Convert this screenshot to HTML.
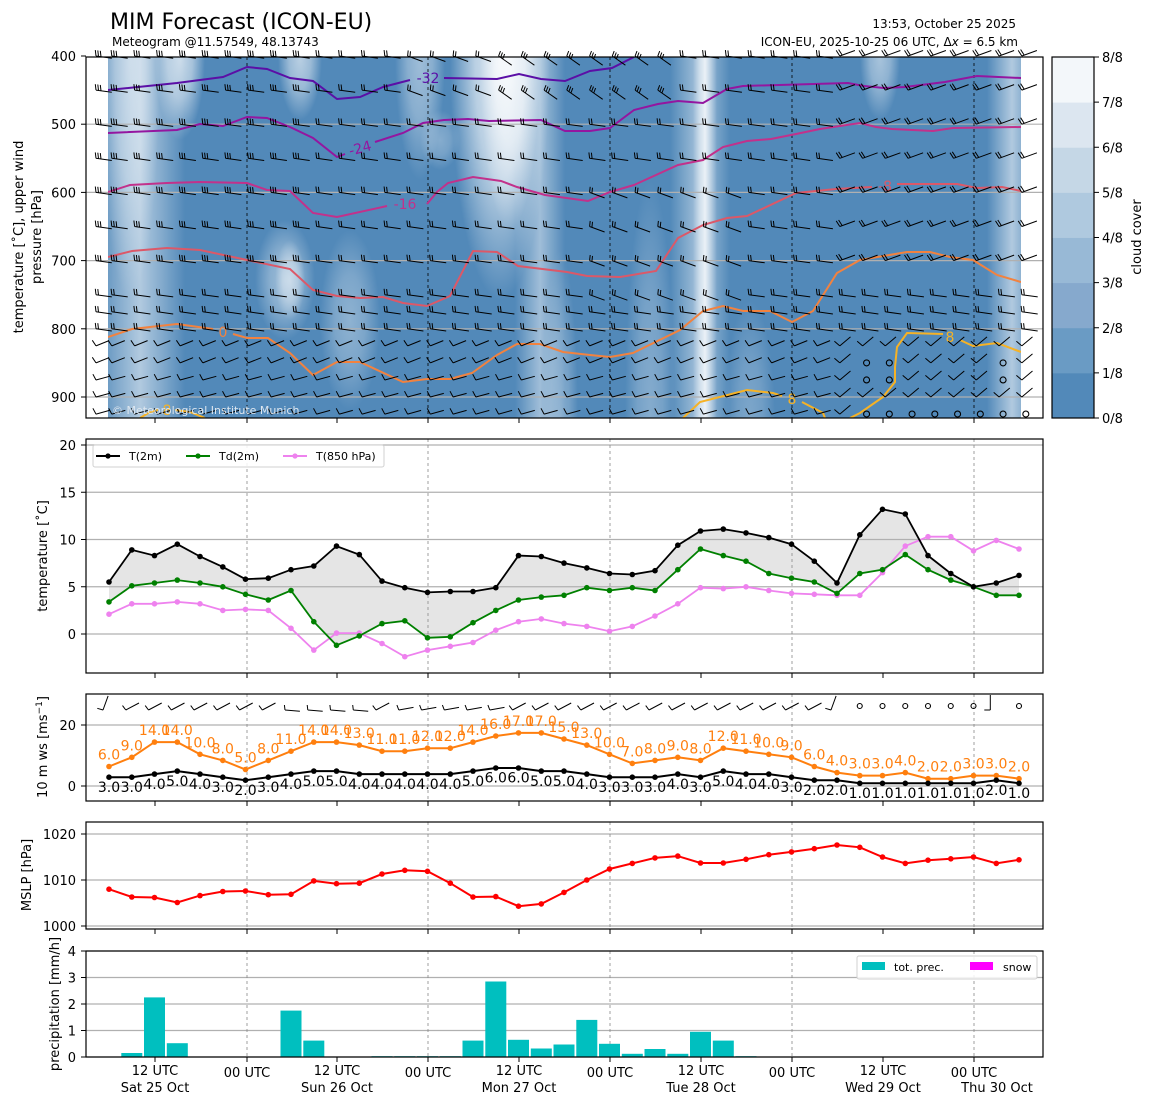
<!DOCTYPE html>
<html><head><meta charset="utf-8">
<style>
html,body{margin:0;padding:0;background:#fff;}
svg{display:block;font-family:"DejaVu Sans","Liberation Sans",sans-serif;}
</style></head>
<body>
<svg id="s" width="1155" height="1105" viewBox="0 0 1155 1105" xmlns="http://www.w3.org/2000/svg"></svg>
<script>
(function(){
var o=[];
function X(i){return 109+22.75*i;}
function pl(pts,col,w,extra){return '<polyline points="'+pts.map(function(p){return p[0].toFixed(1)+','+p[1].toFixed(1)}).join(' ')+'" fill="none" stroke="'+col+'" stroke-width="'+(w||2)+'" '+(extra||'')+'/>';}
function txt(x,y,t,sz,anc,col,extra){return '<text x="'+x+'" y="'+y+'" font-size="'+sz+'" text-anchor="'+(anc||'start')+'" fill="'+(col||'#000')+'" '+(extra||'')+'>'+t+'</text>';}
o.push(txt(110,29,'MIM Forecast (ICON-EU)',22));
o.push(txt(112,46,'Meteogram @11.57549, 48.13743',12));
o.push(txt(1016,28,'13:53, October 25 2025',12,'end'));
o.push(txt(1018,46,'ICON-EU, 2025-10-25 06 UTC, Δ<tspan font-style="italic">x</tspan> = 6.5 km',12,'end'));
var defs='<defs><clipPath id="cp"><rect x="108" y="57" width="913" height="361"/></clipPath><linearGradient id="gb" x1="0" x2="1" y1="0" y2="0"><stop offset="0" stop-color="#fff" stop-opacity="0"/><stop offset="0.5" stop-color="#fff" stop-opacity="1"/><stop offset="1" stop-color="#fff" stop-opacity="0"/></linearGradient><radialGradient id="gr"><stop offset="0" stop-color="#fff" stop-opacity="1"/><stop offset="0.5" stop-color="#fff" stop-opacity="0.7"/><stop offset="1" stop-color="#fff" stop-opacity="0"/></radialGradient></defs>';
o.push(defs);
o.push('<g clip-path="url(#cp)"><rect x="108" y="57" width="913" height="361" fill="#5289b9"/>');
function band(cx,hw,y0,y1,op){
 if(y0<=57&&y1>=418){o.push('<rect x="'+(cx-hw)+'" y="'+y0+'" width="'+(2*hw)+'" height="'+(y1-y0)+'" fill="url(#gb)" opacity="'+op+'"/>');}
 else{var cy=(y0+y1)/2,ry=(y1-y0)/2;if(y0<=57){cy=y0;ry=(y1-y0);} if(y1>=418){cy=y1;ry=(y1-y0);}
  o.push('<ellipse cx="'+cx+'" cy="'+cy+'" rx="'+hw+'" ry="'+ry+'" fill="url(#gr)" opacity="'+op+'"/>');}}
band(140,45,57,418,0.55);band(130,30,57,300,0.5);band(180,25,57,140,0.7);band(300,22,57,120,0.6);
band(285,30,220,340,0.45);band(350,30,230,410,0.35);band(290,15,240,320,0.5);
band(420,25,57,180,0.45);band(500,50,57,300,0.85);band(510,30,57,230,0.8);band(540,25,57,418,0.45);
band(560,18,250,418,0.3);band(700,30,57,418,0.5);band(705,12,57,418,0.8);band(650,25,180,418,0.3);
band(880,20,57,120,0.5);band(1012,25,57,418,0.55);band(440,20,110,170,0.3);band(750,25,300,418,0.25);
o.push('</g>');
[500,600,700,800,900].forEach(function(p){var y=56+(p-400)*0.682;o.push('<line x1="86" x2="1043" y1="'+y+'" y2="'+y+'" stroke="#b0b0b0" stroke-width="1.2"/>');});
[247,428,610,792,974].forEach(function(x){o.push('<line x1="'+x+'" x2="'+x+'" y1="57" y2="418" stroke="#000" stroke-width="0.8" stroke-dasharray="3,3"/>');});
var C32=[[108,90],[177,83],[223,77],[247,67],[267,69],[290,78],[313,81],[337,99],[360,97],[383,87],[410,80]];
var C32b=[[444,78],[497,79],[519,74],[541,79],[565,81],[590,71],[612,68],[634,57]];
var C24=[[108,133],[177,130],[200,124],[223,126],[247,117],[267,118],[290,127],[313,138],[337,157],[345,154]];
var C24b=[[375,142],[403,133],[423,123],[444,120],[468,119],[489,121],[541,120],[565,131],[590,131],[610,128],[634,110],[658,104],[678,101],[703,103],[727,89],[743,86],[848,83],[864,86],[884,88],[905,87],[945,82],[977,76],[1021,78]];
var C16=[[108,192],[130,185],[167,183],[200,182],[247,183],[267,190],[290,191],[313,213],[337,217],[387,206]];
var C16b=[[427,204],[437,192],[448,183],[473,177],[501,181],[517,187],[545,195],[588,201],[610,192],[634,185],[678,165],[703,160],[723,147],[747,141],[771,139],[796,134],[820,129],[860,123],[876,127],[892,129],[933,131],[953,128],[1021,127]];
var C8=[[108,257],[132,251],[167,248],[200,250],[247,260],[290,269],[313,290],[337,296],[360,298],[383,297],[403,303],[427,306],[450,296],[473,251],[497,252],[518,266],[567,272],[587,276],[620,277],[656,271],[670,250],[678,238],[703,225],[727,218],[747,216],[796,193],[836,189],[872,187]];
var C8b=[[897,184],[957,184],[977,188],[1002,187],[1021,191]];
var C0=[[108,337],[132,329],[177,324],[213,329]];
var C0b=[[233,334],[247,338],[268,338],[290,353],[313,375],[337,362],[360,362],[403,382],[427,379],[450,379],[472,373],[497,355],[517,344],[540,344],[563,352],[590,355],[610,357],[633,353],[680,330],[703,311],[723,306],[743,311],[770,311],[792,322],[813,311],[837,273],[860,260],[907,252],[930,252],[950,257],[973,260],[997,275],[1021,282]];
var Y8a=[[850,418],[860,413],[883,397],[895,382],[895,367],[897,347],[907,333],[943,334]];
var Y8b=[[960,340],[973,346],[997,343],[1021,352]];
var Y8c=[[683,418],[700,402],[747,390],[773,393],[782,396]];
var Y8d=[[802,402],[823,413],[825,418]];
var Y8e=[[140,418],[150,412],[158,410]];var Y8f=[[175,410],[190,412],[205,418]];
o.push('<g clip-path="url(#cp)">');
o.push(pl(C32,'#5b0fa6',2)+pl(C32b,'#5b0fa6',2)+pl(C24,'#9416a0',2)+pl(C24b,'#9416a0',2)+pl(C16,'#c2318b',2)+pl(C16b,'#c2318b',2)+pl(C8,'#dc5868',2)+pl(C8b,'#dc5868',2)+pl(C0,'#f2823f',2)+pl(C0b,'#f2823f',2)+pl(Y8a,'#f6b225',2)+pl(Y8b,'#f6b225',2)+pl(Y8c,'#f6b225',2)+pl(Y8d,'#f6b225',2)+pl(Y8e,'#f6b225',2)+pl(Y8f,'#f6b225',2));
o.push('</g>');
o.push(txt(428,83,'-32',14,'middle','#5b0fa6'));o.push(txt(360,153,'-24',14,'middle','#9416a0','transform="rotate(-15 360 148)"'));
o.push(txt(405,209,'-16',14,'middle','#c2318b'));o.push(txt(885,191,'-8',14,'middle','#dc5868'));
o.push(txt(223,337,'0',14,'middle','#f2823f'));o.push(txt(950,342,'8',14,'middle','#f6b225'));
o.push(txt(792,404,'8',14,'middle','#f6b225'));o.push(txt(167,415,'8',14,'middle','#f6b225'));
var levels=[400,450,500,550,600,650,700,750,775,800,825,850,875,900,925];
var b=[];
function calm(i,p){
 if(p==925&&i>=33)return true;
 if((p==850||p==875)&&(i==33||i==34||i==39))return true;
 return false;}
levels.forEach(function(p,li){var y=56+(p-400)*0.682;
 for(var i=-0.7;i<41;i++){var x=X(i<0?-0.7:i);
  if(i<0){x=100;}
  var ii=Math.round(i);
  if(calm(ii,p)){b.push('<circle cx="'+x+'" cy="'+y+'" r="3" fill="none" stroke="#000" stroke-width="1.1"/>');continue;}
  var ang=8,len=16,nf=2;
  if(p>=825){ang=-22;nf=1;len=14;} if(p>=875){ang=-15;}
  if(p<=450&&ii>=17&&ii<=24){ang=35;nf=3;}
  if(p<=450&&ii>=13&&ii<=16){ang=20;}
  if(p>=600&&p<=750&&ii>=21&&ii<=27){ang=20;}
  if(ii>=32&&p>=825){ang=-40;}
  if(ii>=32&&p<=700){ang=-20;}
  if(ii<9&&p<=700){nf=3;}
  var r=ang*Math.PI/180,x0=x-4,y0=y,x1=x0+len*Math.cos(r),y1=y0+len*Math.sin(r);
  var d='M'+x0.toFixed(1)+','+y0.toFixed(1)+'L'+x1.toFixed(1)+','+y1.toFixed(1);
  for(var k=0;k<nf;k++){var fx=x0+k*2.5*Math.cos(r),fy=y0+k*2.5*Math.sin(r);
   d+='M'+fx.toFixed(1)+','+fy.toFixed(1)+'l'+(-1.5+6*Math.sin(r)).toFixed(1)+','+(-6*Math.cos(r)).toFixed(1);}
  b.push('<path d="'+d+'" fill="none" stroke="#000" stroke-width="1"/>');
 }});
o.push('<g>'+b.join('')+'</g>');
o.push('<rect x="86" y="57" width="957" height="361" fill="none" stroke="#000" stroke-width="1.2"/>');
o.push(txt(112,414,'© Meteorological Institute Munich',11,'start','#dde6ef'));
[400,500,600,700,800,900].forEach(function(p){var y=56+(p-400)*0.682;o.push('<line x1="81" x2="86" y1="'+y+'" y2="'+y+'" stroke="#000"/>'+txt(76,y+5,p,13,'end'));});
[155,247,337,428,519,610,701,792,883,974].forEach(function(x){o.push('<line x1="'+x+'" x2="'+x+'" y1="418" y2="423" stroke="#000"/>');});
o.push(txt(23,237,'temperature [˚C], upper wind',13,'middle','#000','transform="rotate(-90 23 237)"'));
o.push(txt(41,237,'pressure [hPa]',13,'middle','#000','transform="rotate(-90 41 237)"'));
var cc=['#5289b9','#6a9bc4','#86a9cd','#98b9d6','#afc9df','#c5d7e6','#dce6f0','#f3f7fa'];
for(var k=0;k<8;k++){var y=418-(k+1)*45.125;o.push('<rect x="1052" y="'+y+'" width="42" height="45.6" fill="'+cc[k]+'"/>');}
o.push('<rect x="1052" y="57" width="42" height="361" fill="none" stroke="#000" stroke-width="1.2"/>');
for(var k=0;k<=8;k++){var y=418-k*45.125;o.push('<line x1="1094" x2="1099" y1="'+y+'" y2="'+y+'" stroke="#000"/>'+txt(1102,y+5,k+'/8',13));}
o.push(txt(1141,237,'cloud cover',13,'middle','#000','transform="rotate(-90 1141 237)"'));
function frame(y0,y1){o.push('<rect x="86" y="'+y0+'" width="957" height="'+(y1-y0)+'" fill="none" stroke="#000" stroke-width="1.2"/>');
 [155,247,337,428,519,610,701,792,883,974].forEach(function(x){o.push('<line x1="'+x+'" x2="'+x+'" y1="'+y1+'" y2="'+(y1+5)+'" stroke="#000"/>');});}
function vd(y0,y1){[247,428,610,792,974].forEach(function(x){o.push('<line x1="'+x+'" x2="'+x+'" y1="'+y0+'" y2="'+y1+'" stroke="#888" stroke-width="0.8" stroke-dasharray="3,3"/>');});}
function hg(y,lab){o.push('<line x1="86" x2="1043" y1="'+y+'" y2="'+y+'" stroke="#b0b0b0" stroke-width="1.2"/><line x1="81" x2="86" y1="'+y+'" y2="'+y+'" stroke="#000"/>'+txt(76,y+5,lab,13,'end'));}
function series(vals,fy,col,w){var pts=vals.map(function(v,i){return [X(i),fy(v)];});var s=pl(pts,col,w||2);pts.forEach(function(p){s+='<circle cx="'+p[0].toFixed(1)+'" cy="'+p[1].toFixed(1)+'" r="2.8" fill="'+col+'"/>';});o.push(s);return pts;}
var T=[5.5,8.9,8.3,9.5,8.2,7.1,5.8,5.9,6.8,7.2,9.3,8.4,5.6,4.9,4.4,4.5,4.5,4.9,8.3,8.2,7.5,7.0,6.4,6.3,6.7,9.4,10.9,11.1,10.7,10.2,9.5,7.7,5.4,10.5,13.2,12.7,8.3,6.4,5.0,5.4,6.2];
var Td=[3.4,5.1,5.4,5.7,5.4,5.0,4.2,3.6,4.6,1.3,-1.2,-0.2,1.1,1.4,-0.4,-0.3,1.2,2.5,3.6,3.9,4.1,4.9,4.6,4.9,4.6,6.8,9.0,8.3,7.7,6.4,5.9,5.5,4.3,6.4,6.8,8.4,6.8,5.7,5.0,4.1,4.1];
var T85=[2.1,3.2,3.2,3.4,3.2,2.5,2.6,2.5,0.6,-1.7,0.1,0.1,-1.0,-2.4,-1.7,-1.3,-0.9,0.4,1.3,1.6,1.1,0.8,0.3,0.8,1.9,3.2,4.9,4.8,5.0,4.6,4.3,4.2,4.1,4.1,6.5,9.3,10.3,10.3,8.8,9.9,9.0];
function ty(v){return 634-v*9.45;}
var fp=T.map(function(v,i){return X(i).toFixed(1)+','+ty(v).toFixed(1);});
for(var i=40;i>=0;i--)fp.push(X(i).toFixed(1)+','+ty(Td[i]).toFixed(1));
o.push('<polygon points="'+fp.join(' ')+'" fill="#e5e5e5"/>');
[0,5,10,15,20].forEach(function(v){hg(ty(v),v);});
vd(439,673);
series(T85,ty,'#ee82ee',1.8);series(Td,ty,'#008000',1.8);series(T,ty,'#000',1.8);
frame(439,673);
o.push('<rect x="93" y="445" width="291" height="22" rx="2" fill="#fff" fill-opacity="0.85" stroke="#d0d0d0"/>');
o.push('<line x1="96" x2="120" y1="456" y2="456" stroke="#000" stroke-width="2"/><circle cx="108" cy="456" r="2.6"/>'+txt(129,460,'T(2m)',11));
o.push('<line x1="186" x2="210" y1="456" y2="456" stroke="#008000" stroke-width="2"/><circle cx="198" cy="456" r="2.6" fill="#008000"/>'+txt(219,460,'Td(2m)',11));
o.push('<line x1="283" x2="307" y1="456" y2="456" stroke="#ee82ee" stroke-width="2"/><circle cx="295" cy="456" r="2.6" fill="#ee82ee"/>'+txt(316,460,'T(850 hPa)',11));
o.push(txt(47,556,'temperature [˚C]',13,'middle','#000','transform="rotate(-90 47 556)"'));
var G=[6,9,14,14,10,8,5,8,11,14,14,13,11,11,12,12,14,16,17,17,15,13,10,7,8,9,8,12,11,10,9,6,4,3,3,4,2,2,3,3,2];
var W=[3,3,4,5,4,3,2,3,4,5,5,4,4,4,4,4,5,6,6,5,5,4,3,3,3,4,3,5,4,4,3,2,2,1,1,1,1,1,1,2,1];
function wy(v){return 786-v*3.05;}
hg(wy(0),0);hg(wy(20),20);
vd(694,801);
series(G.map(function(v){return v+0.4;}),wy,'#ff7f0e',2);
series(W.map(function(v){return v-0.1;}),wy,'#000',2);
G.forEach(function(v,i){o.push(txt(X(i),wy(v+0.4)-7,v.toFixed(1),14,'middle','#ff7f0e'));});
W.forEach(function(v,i){o.push(txt(X(i),wy(v)+15,v.toFixed(1),14,'middle','#000'));});
var wb=[];
for(var i=0;i<41;i++){var x=X(i),y=708;
 if(i>=33&&i!=39){wb.push('<circle cx="'+x+'" cy="'+(y-2)+'" r="2.5" fill="none" stroke="#000" stroke-width="1.1"/>');continue;}
 var ang=-28,nf=1;
 if(i==0||i==32){ang=-70;} if(i==39){ang=-90;}
 if(i>=8&&i<=11){ang=5;} if(i>=13&&i<=17){ang=-10;}
 var r=ang*Math.PI/180,x0=x-6,y0=y+2,len=15,x1=x0+len*Math.cos(r),y1=y0+len*Math.sin(r);
 var d='M'+x0.toFixed(1)+','+y0.toFixed(1)+'L'+x1.toFixed(1)+','+y1.toFixed(1);
 for(var k=0;k<nf;k++){d+='M'+x0.toFixed(1)+','+y0.toFixed(1)+'l'+(-1+5*Math.sin(r)).toFixed(1)+','+(-5*Math.cos(r)).toFixed(1);}
 wb.push('<path d="'+d+'" fill="none" stroke="#000" stroke-width="1"/>');}
o.push(wb.join(''));
frame(694,801);
o.push(txt(47,747,'10 m ws [ms<tspan dy="-5" font-size="9">−1</tspan><tspan dy="5">]</tspan>',13,'middle','#000','transform="rotate(-90 47 747)"'));
var P=[1008,1006.3,1006.2,1005.1,1006.6,1007.5,1007.6,1006.8,1006.9,1009.8,1009.2,1009.3,1011.3,1012.1,1011.9,1009.3,1006.3,1006.4,1004.3,1004.8,1007.3,1010,1012.4,1013.6,1014.8,1015.2,1013.7,1013.7,1014.5,1015.5,1016.1,1016.8,1017.6,1017.1,1015,1013.6,1014.3,1014.6,1015,1013.6,1014.4];
function my(v){return 880-(v-1010)*4.6;}
[1000,1010,1020].forEach(function(v){hg(my(v),v);});
vd(822,929);
series(P,my,'#ff0000',2);
frame(822,929);
o.push(txt(31,875,'MSLP [hPa]',13,'middle','#000','transform="rotate(-90 31 875)"'));
function py(v){return 1057-v*26.5;}
[0,1,2,3,4].forEach(function(v){hg(py(v),v);});
vd(951,1057);
var PR={1:.15,2:2.25,3:.52,8:1.75,9:.62,12:.03,13:.03,14:.03,15:.03,16:.62,17:2.85,18:.65,19:.32,20:.47,21:1.4,22:.5,23:.12,24:.3,25:.12,26:.95,27:.62,28:.03};
for(var k in PR){var v=PR[k],x=X(+k);o.push('<rect x="'+(x-10.5).toFixed(1)+'" y="'+py(v).toFixed(1)+'" width="21" height="'+(v*26.5).toFixed(1)+'" fill="#00bfbf"/>');}
frame(951,1057);
o.push('<rect x="857" y="956" width="180" height="23" rx="2" fill="#fff" fill-opacity="0.85" stroke="#d0d0d0"/>');
o.push('<rect x="862" y="962" width="23" height="8" fill="#00bfbf"/>'+txt(894,971,'tot. prec.',11));
o.push('<rect x="970" y="962" width="23" height="8" fill="#ff00ff"/>'+txt(1003,971,'snow',11));
o.push(txt(59,1004,'precipitation [mm/h]',13,'middle','#000','transform="rotate(-90 59 1004)"'));
[[155,'12 UTC','Sat 25 Oct'],[337,'12 UTC','Sun 26 Oct'],[519,'12 UTC','Mon 27 Oct'],[701,'12 UTC','Tue 28 Oct'],[883,'12 UTC','Wed 29 Oct']].forEach(function(a){o.push(txt(a[0],1075,a[1],13,'middle')+txt(a[0],1092,a[2],13,'middle'));});
[247,428,610,792].forEach(function(x){o.push(txt(x,1077,'00 UTC',13,'middle'));});
o.push(txt(974,1077,'00 UTC',13,'middle')+txt(997,1092,'Thu 30 Oct',13,'middle'));
document.getElementById('s').innerHTML=o.join('');
})();
</script>
</body></html>
